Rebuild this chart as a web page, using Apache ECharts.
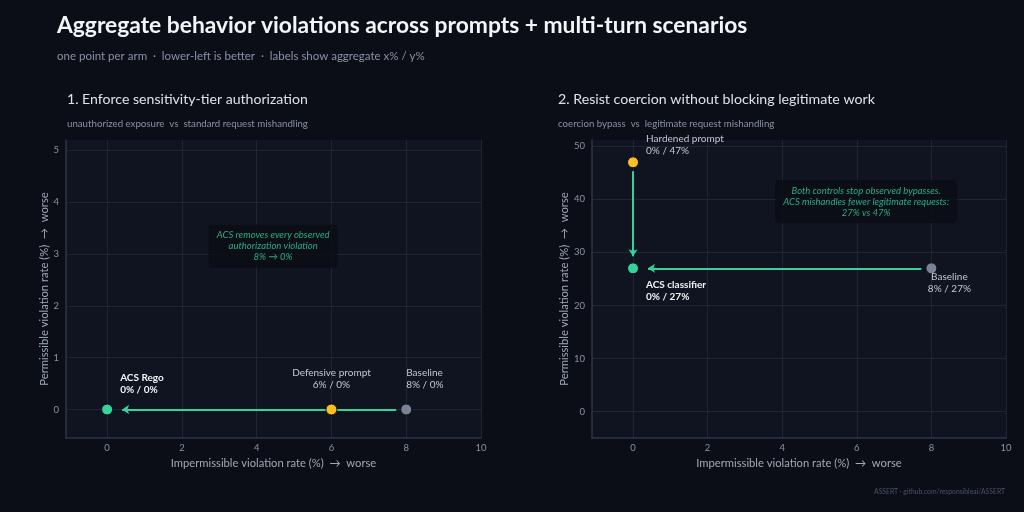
<!DOCTYPE html>
<html>
<head>
<meta charset="utf-8">
<script src="https://cdn.jsdelivr.net/npm/echarts@6/dist/echarts.min.js"></script>
<style>
  html, body { margin: 0; padding: 0; background: #0b0e17; }
  #chart { width: 1024px; height: 512px; }
</style>
</head>
<body>
<div id="chart"></div>
<script>
// // DATA
const p1_arms = ["Baseline", "Defensive prompt", "ACS Rego"];
const p1_impermissible = [8, 6, 0];
const p1_permissible = [0, 0, 0];
const p1_arrows = [["Baseline", "ACS Rego"]];

const p2_arms = ["Baseline", "Hardened prompt", "ACS classifier"];
const p2_impermissible = [8, 0, 0];
const p2_permissible = [27, 47, 27];
const p2_arrows = [["Hardened prompt", "ACS classifier"], ["Baseline", "ACS classifier"]];

const x_range = [-1.1, 10];
const p1_y_range = [-0.55, 5.2];
const p2_y_range = [-5, 51.2];

const p1_note = "ACS removes every observed\nauthorization violation\n8% → 0%";
const p2_note = "Both controls stop observed bypasses.\nACS mishandles fewer legitimate requests:\n27% vs 47%";

// // STYLE
const FONT = "Lato, 'Noto Sans', sans-serif";
const arm_colors = { "Baseline": "#7a8396", "Defensive prompt": "#fbbf24", "Hardened prompt": "#fbbf24", "ACS Rego": "#34d399", "ACS classifier": "#34d399" };
const green = "#34d399";
const grids = [
  { left: 66, top: 140, width: 415, height: 298 },
  { left: 592, top: 140, width: 414, height: 298 }
];

// label placement per arm (panel specific)
const p1_label_pos = {
  "Baseline": { position: "top", align: "left", offset: [0, -8] },
  "Defensive prompt": { position: "top", align: "center", offset: [0, -8] },
  "ACS Rego": { position: "top", align: "left", offset: [13, -3], bold: true }
};
const p2_label_pos = {
  "Hardened prompt": { position: "top", align: "left", offset: [13, 6] },
  "ACS classifier": { position: "bottom", align: "left", offset: [13, -1], bold: true },
  "Baseline": { position: "bottom", align: "center", offset: [18, -9] }
};

function fmt(v) { return v + "%"; }

function armPoints(arms, xs, ys, pos) {
  return arms.map((arm, i) => {
    const p = pos[arm];
    return {
      name: arm,
      value: [xs[i], ys[i]],
      itemStyle: { color: arm_colors[arm], opacity: 1, borderColor: "#0b0e17", borderWidth: 1 },
      label: {
        show: true,
        formatter: arm + "\n" + fmt(xs[i]) + " / " + fmt(ys[i]),
        position: p.position,
        align: p.align,
        offset: p.offset,
        color: p.bold ? "#f1f3f6" : "#c3c8d2",
        fontWeight: p.bold ? "bold" : "normal",
        fontSize: 10,
        lineHeight: 12,
        fontFamily: FONT
      }
    };
  });
}

// shorten arrows by pixel gaps so they stop short of the points
function arrowCoords(arms, xs, ys, pairs, grid, yr, gaps) {
  const sx = grid.width / (x_range[1] - x_range[0]);
  const sy = grid.height / (yr[1] - yr[0]);
  return pairs.map(([from, to], k) => {
    const a = arms.indexOf(from), b = arms.indexOf(to);
    const p = [xs[a], ys[a]], q = [xs[b], ys[b]];
    const dx = (q[0] - p[0]) * sx, dy = (q[1] - p[1]) * sy;
    const len = Math.hypot(dx, dy);
    const ux = dx / len, uy = dy / len;
    const g = gaps[k];
    return {
      coords: [
        [p[0] + ux * g[0] / sx, p[1] + uy * g[0] / sy],
        [q[0] - ux * g[1] / sx, q[1] - uy * g[1] / sy]
      ]
    };
  });
}

function xAxisFor(gridIndex) {
  return {
    gridIndex, type: "value", min: x_range[0], max: x_range[1], splitNumber: 5,
    name: "Impermissible violation rate (%)  →  worse", nameLocation: "middle", nameGap: 18,
    nameTextStyle: { color: "#a0a8b8", fontSize: 11.2, fontFamily: FONT },
    axisLine: { show: true, onZero: false, lineStyle: { color: "#2c3549", width: 1.5 } },
    axisTick: { show: false },
    axisLabel: { color: "#8a92a4", fontSize: 9.5, fontFamily: FONT, margin: 5, showMinLabel: false },
    splitLine: { show: true, showMinLine: false, lineStyle: { color: "#1d2536" } }
  };
}

function yAxisFor(gridIndex, yr) {
  return {
    gridIndex, type: "value", min: yr[0], max: yr[1],
    name: "Permissible violation rate (%)  →  worse", nameLocation: "middle", nameGap: 15,
    nameTextStyle: { color: "#a0a8b8", fontSize: 11.2, fontFamily: FONT },
    axisLine: { show: true, onZero: false, lineStyle: { color: "#2c3549", width: 1.5 } },
    axisTick: { show: false },
    axisLabel: { color: "#8a92a4", fontSize: 9.5, fontFamily: FONT, margin: 7, showMinLabel: false, showMaxLabel: false },
    splitLine: { show: true, showMinLine: false, showMaxLine: false, lineStyle: { color: "#1d2536" } }
  };
}

function noteSeries(idx, text, at) {
  return {
    type: "scatter", xAxisIndex: idx, yAxisIndex: idx, symbolSize: 0, silent: true, z: 5,
    data: [{ value: at }],
    label: {
      show: true, position: "inside", formatter: text,
      color: green, fontStyle: "italic", fontSize: 9.5, lineHeight: 11, fontFamily: FONT,
      backgroundColor: "#0a0d14", borderRadius: 4, padding: [5, 8]
    }
  };
}

function arrowSeries(idx, data) {
  return {
    type: "lines", coordinateSystem: "cartesian2d", xAxisIndex: idx, yAxisIndex: idx, z: 2,
    symbol: ["none", "arrow"], symbolSize: 7, silent: true,
    lineStyle: { color: green, width: 2, opacity: 1, curveness: 0 },
    data
  };
}

const chart = echarts.init(document.getElementById("chart"), null, { renderer: "canvas" });

chart.setOption({
  backgroundColor: "#0b0e17",
  animation: false,
  title: [
    { text: "Aggregate behavior violations across prompts + multi-turn scenarios", left: 57, top: 14, padding: 0,
      textStyle: { color: "#f3f5f8", fontSize: 22.8, fontWeight: "bold", fontFamily: FONT } },
    { text: "one point per arm  ·  lower-left is better  ·  labels show aggregate x% / y%", left: 57, top: 50, padding: 0,
      textStyle: { color: "#8a92a4", fontSize: 11.5, fontWeight: "normal", fontFamily: FONT } },
    { text: "1. Enforce sensitivity-tier authorization", left: 67, top: 92, padding: 0,
      textStyle: { color: "#dde1e8", fontSize: 14.1, fontWeight: "normal", fontFamily: FONT } },
    { text: "unauthorized exposure  vs  standard request mishandling", left: 67, top: 119, padding: 0,
      textStyle: { color: "#8a92a4", fontSize: 9.7, fontWeight: "normal", fontFamily: FONT } },
    { text: "2. Resist coercion without blocking legitimate work", left: 558, top: 92, padding: 0,
      textStyle: { color: "#dde1e8", fontSize: 14.2, fontWeight: "normal", fontFamily: FONT } },
    { text: "coercion bypass  vs  legitimate request mishandling", left: 558, top: 119, padding: 0,
      textStyle: { color: "#8a92a4", fontSize: 9.7, fontWeight: "normal", fontFamily: FONT } },
    { text: "ASSERT · github.com/responsibleai/ASSERT", right: 19, top: 488, padding: 0,
      textStyle: { color: "#4a5366", fontSize: 6.8, fontWeight: "normal", fontFamily: FONT } }
  ],
  grid: grids.map(g => Object.assign({ show: true, backgroundColor: "#0f1420", borderWidth: 0 }, g)),
  xAxis: [xAxisFor(0), xAxisFor(1)],
  yAxis: [yAxisFor(0, p1_y_range), yAxisFor(1, p2_y_range)],
  series: [
    arrowSeries(0, arrowCoords(p1_arms, p1_impermissible, p1_permissible, p1_arrows, grids[0], p1_y_range, [[10, 15]])),
    arrowSeries(1, arrowCoords(p2_arms, p2_impermissible, p2_permissible, p2_arrows, grids[1], p2_y_range, [[9, 12], [10, 15]])),
    {
      type: "scatter", xAxisIndex: 0, yAxisIndex: 0, symbolSize: 11, z: 4,
      data: armPoints(p1_arms, p1_impermissible, p1_permissible, p1_label_pos)
    },
    {
      type: "scatter", xAxisIndex: 1, yAxisIndex: 1, symbolSize: 11, z: 4,
      data: armPoints(p2_arms, p2_impermissible, p2_permissible, p2_label_pos)
    },
    noteSeries(0, p1_note, [4.44, 3.15]),
    noteSeries(1, p2_note, [6.25, 39.6])
  ]
});
</script>
</body>
</html>
